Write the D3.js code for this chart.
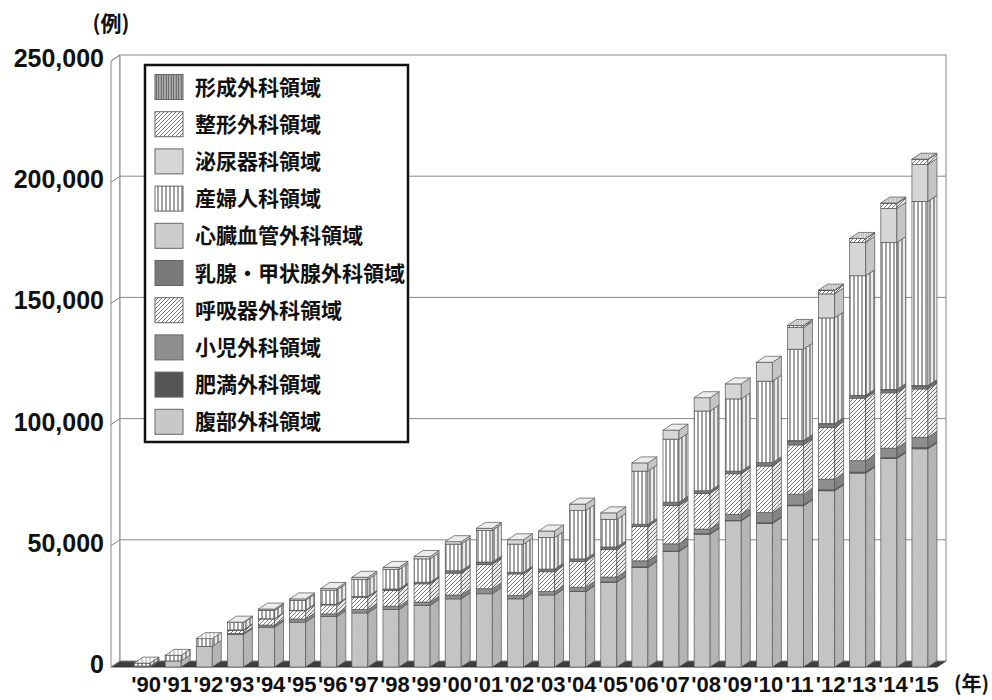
<!DOCTYPE html>
<html><head><meta charset="utf-8">
<script src="https://cdn.jsdelivr.net/npm/d3@7"></script>
<style>body{margin:0;background:#fff}svg{display:block}</style>
</head><body>
<svg id="c" width="992" height="700"></svg>
<script>
const years = ["'90","'91","'92","'93","'94","'95","'96","'97","'98","'99","'00","'01","'02","'03","'04","'05","'06","'07","'08","'09","'10","'11","'12","'13","'14","'15"];
const yTicks = [0,50000,100000,150000,200000,250000];

// bottom -> top stacking order
const abdominal   = [400,2500,8500,13400,16400,18500,20800,22300,23700,25400,28100,30200,28100,29700,31100,35000,41100,47600,54800,60300,59200,66500,72700,80000,86000,90000];
const bariatric   = [0,0,0,0,0,0,0,0,0,0,0,0,0,0,100,100,200,200,200,200,300,300,400,400,400,500];
const pediatric   = [0,0,0,500,900,1300,1100,1400,1400,1400,1600,2100,1400,1400,1700,2000,2500,3000,1900,2500,4200,4500,4400,4700,3900,4300];
const respiratory = [0,0,0,1200,2500,3400,3700,5100,6400,7500,9000,10000,8900,8200,10600,11400,14100,15800,14700,16700,19200,20300,21300,25800,22800,19900];
const breast      = [0,0,0,200,100,200,300,300,700,700,1000,1000,700,1100,1100,1000,1000,1400,1100,1100,1400,1600,1400,1000,1200,1200];
const cardio      = [0,0,0,0,0,0,0,0,0,0,0,0,0,0,0,0,0,0,0,0,0,200,200,200,200,200];
const gynecology  = [1200,2300,3200,3000,3400,4100,5800,7000,8000,9600,11000,13000,11600,13000,19900,11400,21900,26000,32900,29800,33600,37700,43600,49300,60600,76000];
const urology     = [0,0,0,200,600,600,700,900,900,1000,1000,900,1800,2700,2700,2700,3400,3700,5500,6200,7800,8900,9900,13800,14100,15200];
const orthopedic  = [0,0,0,0,0,0,0,0,0,0,0,0,0,0,0,0,0,0,0,0,0,800,1500,1500,2000,2000];
const plastic     = [0,0,0,0,0,0,0,0,0,0,0,0,0,0,0,0,0,0,0,0,0,100,100,100,200,200];

const seriesNames = ["腹部外科領域","肥満外科領域","小児外科領域","呼吸器外科領域","乳腺・甲状腺外科領域","心臓血管外科領域","産婦人科領域","泌尿器科領域","整形外科領域","形成外科領域"];
const seriesData = [abdominal,bariatric,pediatric,respiratory,breast,cardio,gynecology,urology,orthopedic,plastic];
const fills = ["url(#pAbd)","#505050","#8e8e8e","url(#pHatch)","#7a7a7a","#cdcdcd","url(#pVert)","#d6d6d6","url(#pHatch)","url(#pForm)"];

const svg = d3.select("#c");
const defs = svg.append("defs");
function pat(id,w,h,bg,draw){
  const p = defs.append("pattern").attr("id",id).attr("patternUnits","userSpaceOnUse").attr("width",w).attr("height",h);
  p.append("rect").attr("width",w).attr("height",h).attr("fill",bg);
  draw(p);
}
pat("pAbd",3,3,"#c9c9c9",p=>p.append("path").attr("d","M-1,1 l2,-2 M0,3 l3,-3 M2,4 l2,-2").attr("stroke","#b0b0b0").attr("stroke-width",0.6));
pat("pHatch",4,4,"#ffffff",p=>p.append("path").attr("d","M-1,1 l2,-2 M0,4 l4,-4 M3,5 l2,-2").attr("stroke","#555").attr("stroke-width",0.8));
pat("pVert",4,4,"#ffffff",p=>p.append("line").attr("x1",2).attr("x2",2).attr("y1",0).attr("y2",4).attr("stroke","#555").attr("stroke-width",1.1));
pat("pForm",2.5,4,"#b0b0b0",p=>p.append("line").attr("x1",1.2).attr("x2",1.2).attr("y1",0).attr("y2",4).attr("stroke","#555").attr("stroke-width",0.9));

const DX = 9, DY = -6;
const y = d3.scaleLinear().domain([0,250000]).range([667,61]);
const x = d3.scaleBand().domain(years).range([126.5,935.5]).padding(0);
const BW = 16;
const wallL = 111, wallR = 937;
const NUMFONT = "Liberation Sans, Arial, sans-serif";

// floor
svg.append("polygon").attr("points",[[wallL,y(0)],[wallR,y(0)],[wallR+DX,y(0)+DY],[wallL+DX,y(0)+DY]].join(" "))
  .attr("fill","#3e3e3e").attr("stroke","#222").attr("stroke-width",0.8);
// left wall
svg.append("polygon").attr("points",[[wallL,y(0)],[wallL,y(250000)],[wallL+DX,y(250000)+DY],[wallL+DX,y(0)+DY]].join(" "))
  .attr("fill","#fff").attr("stroke","#888").attr("stroke-width",1);
// back wall
svg.append("rect").attr("x",wallL+DX).attr("y",y(250000)+DY).attr("width",wallR-wallL).attr("height",y(0)-y(250000))
  .attr("fill","#fff").attr("stroke","#888").attr("stroke-width",1);
// gridlines and y tick labels
yTicks.forEach(v=>{
  if(v>0 && v<250000){
    svg.append("line").attr("x1",wallL+DX).attr("x2",wallR+DX).attr("y1",y(v)+DY).attr("y2",y(v)+DY).attr("stroke","#888").attr("stroke-width",1);
  }
  svg.append("line").attr("x1",wallL).attr("x2",wallL+DX).attr("y1",y(v)).attr("y2",y(v)+DY).attr("stroke","#888").attr("stroke-width",1);
  svg.append("text").attr("x",104).attr("y",y(v)-3).attr("dy","0.36em").attr("text-anchor","end")
    .attr("font-family",NUMFONT).attr("font-weight","bold").attr("font-size",25).attr("fill","#111")
    .text(d3.format(",")(v));
});

const table = years.map((yr,i)=>{const o={year:yr}; seriesNames.forEach((n,k)=>o[n]=seriesData[k][i]); return o;});
const stack = d3.stack().keys(seriesNames)(table);

const bars = svg.append("g");
years.forEach((yr,i)=>{
  const bx = x(yr) + (x.bandwidth()-BW)/2;
  const g = bars.append("g");
  let topIdx = 0;
  stack.forEach((s,k)=>{
    const [v0,v1] = s[i];
    if(v1-v0<=0) return;
    topIdx = k;
    const y0 = y(v0), y1 = y(v1);
    g.append("rect").attr("x",bx).attr("y",y1).attr("width",BW).attr("height",y0-y1)
      .attr("fill",fills[k]).attr("stroke","#555").attr("stroke-width",0.7);
    const side = [[bx+BW,y0],[bx+BW,y1],[bx+BW+DX,y1+DY],[bx+BW+DX,y0+DY]].join(" ");
    g.append("polygon").attr("points",side).attr("fill",fills[k]);
    g.append("polygon").attr("points",side).attr("fill","rgba(0,0,0,0.08)").attr("stroke","#555").attr("stroke-width",0.7);
  });
  const tot = stack[stack.length-1][i][1];
  const yt = y(tot);
  const topPts = [[bx,yt],[bx+BW,yt],[bx+BW+DX,yt+DY],[bx+DX,yt+DY]].join(" ");
  g.append("polygon").attr("points",topPts).attr("fill",fills[topIdx]);
  g.append("polygon").attr("points",topPts).attr("fill","rgba(255,255,255,0.55)").attr("stroke","#555").attr("stroke-width",0.7);
  svg.append("text").attr("x",bx+BW/2+4).attr("y",692).attr("text-anchor","middle")
    .attr("font-family",NUMFONT).attr("font-weight","bold").attr("font-size",22).attr("fill","#111").text(yr);
});

// axis unit labels
svg.append("text").attr("x",111).attr("y",31).attr("text-anchor","middle")
  .attr("font-family","Noto Sans CJK JP").attr("font-weight","bold").attr("font-size",21).attr("fill","#111").text("(例)");
svg.append("text").attr("x",989).attr("y",691).attr("text-anchor","end")
  .attr("font-family","Noto Sans CJK JP").attr("font-weight","bold").attr("font-size",20).attr("fill","#111").text("(年)");

// legend
const lg = svg.append("g");
lg.append("rect").attr("x",145).attr("y",65).attr("width",263).attr("height",377).attr("fill","#fff").attr("stroke","#111").attr("stroke-width",2.5);
const legendOrder = d3.range(seriesNames.length).reverse();
const legendFills = ["#c8c8c8","#555","#8f8f8f","url(#pHatch)","#7a7a7a","#cdcdcd","url(#pVert)","#d6d6d6","url(#pHatch)","url(#pForm)"];
legendOrder.forEach((k,j)=>{
  const yc = 87 + j*37.2;
  lg.append("rect").attr("x",155).attr("y",yc-12.5).attr("width",28).attr("height",25)
    .attr("fill",legendFills[k]).attr("stroke","#666").attr("stroke-width",1);
  lg.append("text").attr("x",195).attr("y",yc).attr("dy","0.36em")
    .attr("font-family","Noto Sans CJK JP").attr("font-weight","bold").attr("font-size",21).attr("fill","#111").text(seriesNames[k]);
});
</script>
</body></html>
